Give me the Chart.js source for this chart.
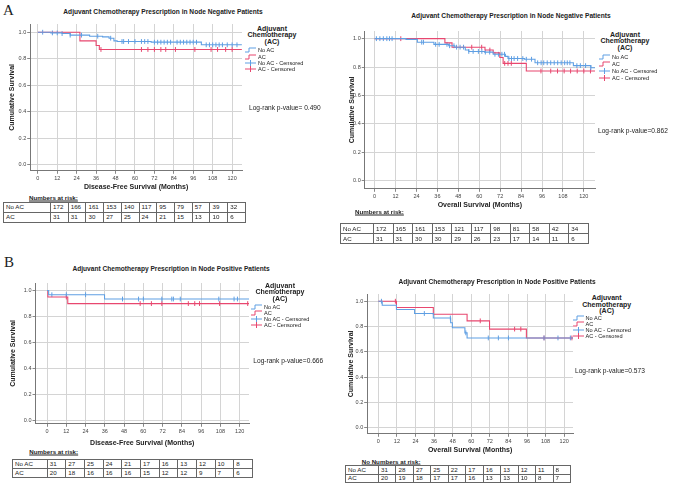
<!DOCTYPE html>
<html>
<head>
<meta charset="utf-8">
<script src="https://cdn.jsdelivr.net/npm/chart.js@4.4.0/dist/chart.umd.min.js"></script>
<style>
  body { margin:0; background:#fff; width:676px; height:485px; position:relative; overflow:hidden;
         font-family:"Liberation Sans", Arial, sans-serif; color:#222; }
  .abs { position:absolute; white-space:nowrap; }
  .panel-letter { font-family:"Liberation Serif", "DejaVu Serif", serif; font-size:15px; line-height:15px; }
  .ttl { font-weight:bold; font-size:6.6px; transform:translate(-50%,-50%); }
  .lg-title { font-weight:bold; font-size:7px; line-height:6.8px; text-align:center; transform:translateX(-50%); }
  .lg-item { font-size:5.6px; line-height:6px; transform:translateY(-50%); display:flex; align-items:center; }
  .lg-item svg { margin-right:2px; }
  .pval { font-size:6.6px; transform:translateY(-50%); }
  .risk-lbl { font-weight:bold; font-size:6.2px; text-decoration:underline; transform:translateY(-50%); }
  table.risk { position:absolute; border-collapse:collapse; table-layout:fixed; font-size:6.2px; }
  table.risk td { border:1px solid #666; padding:0 2px; overflow:hidden; white-space:nowrap; line-height:6px; }
  canvas { position:absolute; }
</style>
</head>
<body>
<div class="abs panel-letter" style="left:3px;top:3px;">A</div>
<div class="abs panel-letter" style="left:4px;top:255px;">B</div>

<canvas id="aLeft"></canvas>
<canvas id="aRight"></canvas>
<canvas id="bLeft"></canvas>
<canvas id="bRight"></canvas>

<script>
// ---- Data ----
const monthTicks = [0, 12, 24, 36, 48, 60, 72, 84, 96, 108, 120];
const survTicks = [0.0, 0.2, 0.4, 0.6, 0.8, 1.0];
const riskLabelRow = ['No AC', 'AC'];

// A, left: node negative, disease-free survival
const dfsNegNoAcMonths = [0, 8, 15, 20, 32, 40, 44, 47, 49, 70, 101, 126];
const dfsNegNoAcSurv   = [1.0, 0.995, 0.99, 0.978, 0.97, 0.965, 0.955, 0.935, 0.93, 0.925, 0.905, 0.905];
const dfsNegNoAcCensor = [3, 9, 12, 15, 20, 27, 37, 45, 52, 53, 56, 60, 64, 66, 68, 72, 74, 76, 78, 80, 82, 86, 88, 90, 92, 94, 96, 98, 104, 106, 108, 110, 112, 114, 117, 120, 123];
const dfsNegAcMonths   = [0, 26, 36, 38, 126];
const dfsNegAcSurv     = [1.0, 0.935, 0.90, 0.87, 0.87];
const dfsNegAcCensor   = [39, 64, 68, 72, 76, 79, 85, 97, 107, 111, 116, 120];
const dfsNegRiskNoAc   = [172, 166, 161, 153, 140, 117, 95, 79, 57, 39, 32];
const dfsNegRiskAc     = [31, 31, 30, 27, 25, 24, 21, 15, 13, 10, 6];

// A, right: node negative, overall survival
const osNegNoAcMonths = [0, 18, 24.5, 34, 42.5, 46, 52, 54, 63, 68, 75, 76.5, 86, 92, 114, 124, 126.5];
const osNegNoAcSurv   = [1.0, 0.995, 0.975, 0.96, 0.95, 0.94, 0.92, 0.91, 0.905, 0.89, 0.875, 0.86, 0.855, 0.83, 0.81, 0.795, 0.795];
const osNegNoAcCensor = [1, 3, 5, 7, 8.5, 10, 27, 28, 35, 37, 41.5, 43, 45.5, 47, 49, 51, 54, 56.5, 59.5, 61.5, 63.5, 66, 69, 71, 73, 74.5, 77, 78.5, 80, 82, 85, 87, 90, 93.5, 95.5, 97, 99, 101, 103, 105, 107, 109, 110.5, 112, 116, 118, 121, 124];
const osNegAcMonths   = [0, 40.3, 44.4, 63.3, 68, 71.8, 73.7, 87, 126.5];
const osNegAcSurv     = [1.0, 0.97, 0.94, 0.92, 0.90, 0.867, 0.826, 0.772, 0.772];
const osNegAcCensor   = [15, 55.7, 61.4, 66.1, 74.6, 76.5, 78.4, 95.4, 101, 104.9, 108.7, 112.4, 116.2, 120, 123.8];
const osNegRiskNoAc   = [172, 165, 161, 153, 121, 117, 98, 81, 58, 42, 34];
const osNegRiskAc     = [31, 31, 30, 30, 29, 26, 23, 17, 14, 11, 6];

// B, left: node positive, disease-free survival
const dfsPosNoAcMonths = [0, 1, 35.8, 126];
const dfsPosNoAcSurv   = [1.0, 0.968, 0.935, 0.935];
const dfsPosNoAcCensor = [3, 12, 24, 47, 57, 60, 71.5, 77.7, 78.7, 83, 107, 116.5, 118.6];
const dfsPosAcMonths   = [0, 0.5, 12.9, 126];
const dfsPosAcSurv     = [1.0, 0.95, 0.90, 0.90];
const dfsPosAcCensor   = [12, 58, 65, 71.5, 88, 92, 95, 107.5, 125];
const dfsPosRiskNoAc   = [31, 27, 25, 24, 21, 17, 16, 13, 12, 10, 8];
const dfsPosRiskAc     = [20, 18, 16, 16, 16, 15, 12, 12, 9, 7, 6];

// B, right: node positive, overall survival
const osPosNoAcMonths = [0, 2.5, 11.7, 23.4, 35.5, 46.7, 47.8, 55.9, 57.3, 126];
const osPosNoAcSurv   = [1.0, 0.968, 0.935, 0.903, 0.868, 0.83, 0.79, 0.75, 0.71, 0.71];
const osPosNoAcCensor = [2, 29.7, 46.5, 56.5, 71, 77.5, 84, 107, 116, 124];
const osPosAcMonths   = [0, 11.7, 35.5, 57.3, 71.8, 95.6, 126];
const osPosAcSurv     = [1.0, 0.95, 0.897, 0.845, 0.78, 0.71, 0.71];
const osPosAcCensor   = [11, 65.8, 88, 92, 107, 125];
const osPosRiskNoAc   = [31, 28, 27, 25, 22, 17, 16, 13, 12, 11, 8];
const osPosRiskAc     = [20, 19, 18, 17, 17, 16, 13, 13, 10, 8, 7];

const titleNeg = 'Adjuvant Chemotherapy Prescription in Node Negative Patients';
const titlePos = 'Adjuvant Chemotherapy Prescription in Node Positive Patients';
const xTitleDfs = 'Disease-Free Survival (Months)';
const xTitleOs = 'Overall Survival (Months)';
const yTitle = 'Cumulative Survival';
const legendTitle = ['Adjuvant', 'Chemotherapy', '(AC)'];
const legendItems = ['No AC', 'AC', 'No AC - Censored', 'AC - Censored'];

const blue = '#5f9fe3';
const pink = '#e8476f';

// survival value at a censor time (step function lookup)
function survAt(months, surv, t) {
  let s = surv[0];
  for (let i = 0; i < months.length; i++) {
    if (months[i] <= t) s = surv[i];
  }
  return s;
}

function el(html) {
  const d = document.createElement('div');
  d.innerHTML = html;
  const n = d.firstElementChild;
  document.body.appendChild(n);
  return n;
}

function drawPanel(p) {
  const fs = 7, lh = fs * 1.2;
  const left = p.yTitleX - lh / 2;
  const top = p.plot.t - 4;
  const width = Math.round(p.plot.r + 2 - left);
  const height = Math.round(p.xTitleY + lh / 2 - top);
  const yw = p.plot.l - left;
  const xh = p.xTitleY + lh / 2 - p.plot.b;

  const cv = document.getElementById(p.id);
  cv.width = width; cv.height = height;
  cv.style.left = left + 'px'; cv.style.top = top + 'px';
  cv.style.width = width + 'px'; cv.style.height = height + 'px';

  const lineSet = (label, months, surv, color) => ({
    label, type: 'scatter', showLine: true, stepped: true,
    data: months.map((m, i) => ({x: m, y: surv[i]})),
    borderColor: color, borderWidth: 1.1, pointRadius: 0, fill: false
  });
  const censorSet = (label, times, months, surv, color) => ({
    label, type: 'scatter', showLine: false,
    data: times.map(t => ({x: t, y: survAt(months, surv, t)})),
    borderColor: color, backgroundColor: color, borderWidth: 1,
    pointStyle: 'line', rotation: 90, pointRadius: 2.4
  });

  new Chart(cv, {
    type: 'scatter',
    data: {
      datasets: [
        lineSet('No AC', p.noAc[0], p.noAc[1], blue),
        lineSet('AC', p.ac[0], p.ac[1], pink),
        censorSet('No AC - Censored', p.noAc[2], p.noAc[0], p.noAc[1], blue),
        censorSet('AC - Censored', p.ac[2], p.ac[0], p.ac[1], pink)
      ]
    },
    options: {
      responsive: false, animation: false, devicePixelRatio: 1,
      layout: { padding: { top: 4, right: 2, left: 0, bottom: 0 } },
      plugins: { legend: { display: false }, tooltip: { enabled: false } },
      scales: {
        x: {
          type: 'linear', min: p.x[0], max: p.x[1],
          afterBuildTicks(s) { s.ticks = monthTicks.map(v => ({value: v})); },
          ticks: { padding: 1, color: '#444', autoSkip: false,
                   font: { size: 5.5, family: 'Liberation Sans' }, maxRotation: 0 },
          grid: { color: '#d4d4d4', tickLength: 3, tickColor: '#888' },
          border: { color: '#777' },
          title: { display: true, text: p.xTitle, padding: 0, color: '#222',
                   font: { size: fs, weight: 'bold', family: 'Liberation Sans' } },
          afterFit(s) { s.height = xh; }
        },
        y: {
          type: 'linear', min: p.y[0], max: p.y[1],
          afterBuildTicks(s) { s.ticks = survTicks.map(v => ({value: v})); },
          ticks: { padding: 1, color: '#444', autoSkip: false,
                   font: { size: 5.5, family: 'Liberation Sans' },
                   callback: v => v.toFixed(1) },
          grid: { color: '#d4d4d4', tickLength: 3, tickColor: '#888' },
          border: { color: '#777' },
          title: { display: true, text: yTitle, padding: 0, color: '#222',
                   font: { size: fs, weight: 'bold', family: 'Liberation Sans' } },
          afterFit(s) { s.width = yw; }
        }
      }
    }
  });

  // chart title
  el(`<div class="abs ttl" style="left:${p.title[1]}px;top:${p.title[2]}px;">${p.title[0]}</div>`);
  // legend
  el(`<div class="abs lg-title" style="left:${p.lg.tx}px;top:${p.lg.ty}px;">${legendTitle.join('<br>')}</div>`);
  legendItems.forEach((txt, i) => {
    const col = i % 2 === 0 ? blue : pink;
    const icon = i < 2
      ? `<svg width="11" height="6"><path d="M0 5 H4 V1 H11" stroke="${col}" stroke-width="1" fill="none"/></svg>`
      : `<svg width="11" height="6"><path d="M0 3 H11 M5.5 0 V6" stroke="${col}" stroke-width="1" fill="none"/></svg>`;
    el(`<div class="abs lg-item" style="left:${p.lg.ix}px;top:${p.lg.iy[i]}px;">${icon}${txt}</div>`);
  });
  // p-value
  el(`<div class="abs pval" style="left:${p.pv[1]}px;top:${p.pv[2]}px;">${p.pv[0]}</div>`);
  // risk table
  el(`<div class="abs risk-lbl" style="left:${p.tbl.lx}px;top:${p.tbl.ly}px;">${p.tbl.label}</div>`);
  const cw = (p.tbl.w - p.tbl.c0) / 11;
  let rows = '';
  [p.noAc[3], p.ac[3]].forEach((vals, r) => {
    rows += `<tr><td style="width:${p.tbl.c0 - 5}px;height:${p.tbl.rh - 1}px">${riskLabelRow[r]}</td>` +
      vals.map(v => `<td style="width:${cw - 5}px">${v}</td>`).join('') + '</tr>';
  });
  el(`<table class="risk" style="left:${p.tbl.x}px;top:${p.tbl.y}px;width:${p.tbl.w}px;">${rows}</table>`);
}

drawPanel({
  id: 'aLeft', plot: {l: 30, t: 22.7, r: 245, b: 170}, x: [-4.7, 126.1], y: [-0.045, 1.062],
  yTitleX: 12, xTitleY: 186, xTitle: xTitleDfs,
  noAc: [dfsNegNoAcMonths, dfsNegNoAcSurv, dfsNegNoAcCensor, dfsNegRiskNoAc],
  ac: [dfsNegAcMonths, dfsNegAcSurv, dfsNegAcCensor, dfsNegRiskAc],
  title: [titleNeg, 163, 11],
  lg: {tx: 272, ty: 25.5, ix: 245, iy: [50, 56.5, 62.8, 69]},
  pv: ['Log-rank p-value= 0.490', 249, 107],
  tbl: {label: 'Numbers at risk:', lx: 29, ly: 197.3, x: 3, y: 201.7, w: 242, c0: 47, rh: 10}
});

drawPanel({
  id: 'aRight', plot: {l: 365, t: 30, r: 598, b: 189}, x: [-5.7, 126.4], y: [-0.058, 1.054],
  yTitleX: 352.5, xTitleY: 205, xTitle: xTitleOs,
  noAc: [osNegNoAcMonths, osNegNoAcSurv, osNegNoAcCensor, osNegRiskNoAc],
  ac: [osNegAcMonths, osNegAcSurv, osNegAcCensor, osNegRiskAc],
  title: [titleNeg, 511, 15],
  lg: {tx: 625, ty: 31.5, ix: 599, iy: [57.3, 64.3, 71, 78]},
  pv: ['Log-rank p-value=0.862', 598, 130],
  tbl: {label: 'Numbers at risk:', lx: 355, ly: 210.7, x: 340, y: 223, w: 248, c0: 33, rh: 10}
});

drawPanel({
  id: 'bLeft', plot: {l: 35, t: 281.7, r: 251.7, b: 423}, x: [-7.2, 125.8], y: [-0.023, 1.058],
  yTitleX: 12.7, xTitleY: 442, xTitle: xTitleDfs,
  noAc: [dfsPosNoAcMonths, dfsPosNoAcSurv, dfsPosNoAcCensor, dfsPosRiskNoAc],
  ac: [dfsPosAcMonths, dfsPosAcSurv, dfsPosAcCensor, dfsPosRiskAc],
  title: [titlePos, 171, 268],
  lg: {tx: 280, ty: 282.5, ix: 251, iy: [306.7, 312.5, 319, 325.3]},
  pv: ['Log-rank p-value=0.666', 253.3, 360],
  tbl: {label: 'Numbers at risk:', lx: 29.3, ly: 451, x: 12, y: 459, w: 240, c0: 34.7, rh: 9}
});

drawPanel({
  id: 'bRight', plot: {l: 367, t: 292.7, r: 575.7, b: 433}, x: [-7.2, 125.7], y: [-0.047, 1.057],
  yTitleX: 351, xTitleY: 449, xTitle: xTitleOs,
  noAc: [osPosNoAcMonths, osPosNoAcSurv, osPosNoAcCensor, osPosRiskNoAc],
  ac: [osPosAcMonths, osPosAcSurv, osPosAcCensor, osPosRiskAc],
  title: [titlePos, 497, 280.7],
  lg: {tx: 606.7, ty: 294.8, ix: 572.5, iy: [317.7, 324, 330, 336]},
  pv: ['Log-rank p-value=0.573', 575, 370],
  tbl: {label: 'No Numbers at risk:', lx: 361.7, ly: 460.7, x: 345, y: 465.3, w: 225, c0: 33, rh: 8.3}
});
</script>
</body>
</html>
